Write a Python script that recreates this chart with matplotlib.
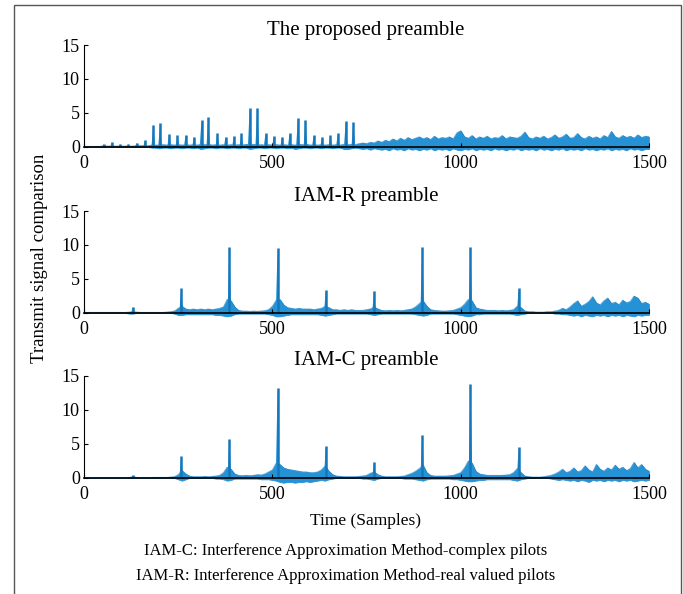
import numpy as np
import matplotlib
matplotlib.use("Agg")
import matplotlib.pyplot as plt
from matplotlib.patches import Rectangle

plt.rcParams['font.family'] = ['Liberation Serif', 'DejaVu Serif']

# =============================================================================
# Data (sample index 0..1500, envelope every 10 samples)
# =============================================================================
grid_x = list(range(0, 1501, 10))

titles = ["The proposed preamble", "IAM-R preamble", "IAM-C preamble"]

# --- the proposed preamble
prop_hi = [0.1, 0.1, 0.1, 0.1, 0.1, 0.15, 0.15, 0.15, 0.15, 0.15,
           0.15, 0.15, 0.15, 0.15, 0.2, 0.2, 0.2, 0.2, 0.3, 0.3,
           0.3, 0.35, 0.3, 0.35, 0.3, 0.35, 0.3, 0.35, 0.3, 0.35,
           0.3, 0.4, 0.35, 0.4, 0.3, 0.35, 0.3, 0.35, 0.3, 0.35,
           0.3, 0.35, 0.3, 0.4, 0.35, 0.4, 0.3, 0.35, 0.3, 0.35,
           0.3, 0.35, 0.3, 0.35, 0.3, 0.35, 0.3, 0.4, 0.35, 0.4,
           0.3, 0.35, 0.3, 0.35, 0.3, 0.35, 0.3, 0.35, 0.3, 0.4,
           0.35, 0.4, 0.35, 0.5, 0.6, 0.5, 0.7, 0.6, 0.9, 0.7,
           1.0, 0.8, 1.2, 0.9, 1.3, 1.0, 1.4, 1.1, 1.3, 1.5,
           1.2, 1.4, 1.1, 1.6, 1.2, 1.4, 1.3, 1.5, 1.2, 2.1,
           2.4, 1.5, 1.3, 1.7, 1.2, 1.5, 1.3, 1.6, 1.2, 1.4,
           1.3, 1.7, 1.2, 1.5, 1.4, 1.3, 1.6, 2.2, 1.4, 1.2,
           1.5, 1.3, 1.6, 1.2, 1.4, 1.8, 1.3, 1.5, 1.9, 1.3,
           1.4, 2.0, 1.4, 1.2, 1.6, 1.3, 1.5, 1.2, 1.7, 1.4,
           2.3, 1.5, 1.3, 1.7, 1.4, 1.6, 1.3, 1.8, 1.4, 1.6,
           1.5]
prop_lo = [0, 0, 0, 0, 0, 0, 0, 0, 0, 0,
           0, 0, 0, 0, 0, 0, 0, 0, -0.1, -0.1,
           -0.2, -0.1, -0.1, -0.2, -0.1, -0.1, -0.2, -0.1, -0.1, -0.2,
           -0.1, -0.3, -0.2, -0.1, -0.1, -0.2, -0.1, -0.1, -0.2, -0.1,
           -0.1, -0.2, -0.1, -0.1, -0.3, -0.2, -0.1, -0.1, -0.2, -0.1,
           -0.1, -0.2, -0.1, -0.1, -0.2, -0.1, -0.3, -0.2, -0.1, -0.1,
           -0.2, -0.1, -0.1, -0.2, -0.1, -0.1, -0.2, -0.1, -0.1, -0.3,
           -0.3, -0.2, -0.1, -0.2, -0.3, -0.2, -0.4, -0.2, -0.3, -0.4,
           -0.3, -0.5, -0.2, -0.4, -0.3, -0.5, -0.2, -0.4, -0.3, -0.5,
           -0.3, -0.4, -0.2, -0.5, -0.3, -0.4, -0.3, -0.5, -0.2, -0.4,
           -0.5, -0.3, -0.4, -0.2, -0.5, -0.3, -0.4, -0.3, -0.5, -0.2,
           -0.4, -0.3, -0.5, -0.3, -0.4, -0.2, -0.5, -0.3, -0.4, -0.3,
           -0.5, -0.2, -0.4, -0.3, -0.5, -0.3, -0.4, -0.2, -0.5, -0.3,
           -0.4, -0.3, -0.5, -0.2, -0.4, -0.3, -0.5, -0.3, -0.4, -0.2,
           -0.5, -0.3, -0.4, -0.3, -0.5, -0.2, -0.4, -0.3, -0.5, -0.3,
           -0.3]
prop_peak_x = [52, 74, 96, 118, 140, 162, 184, 202, 226, 248, 270, 292,
               312, 330, 354, 376, 398, 418, 440, 460, 482, 504, 526, 546,
               568, 588, 610, 632, 654, 674, 695, 715]
prop_peak_y = [0.4, 0.7, 0.4, 0.4, 0.6, 1.0, 3.3, 3.5, 1.9, 1.7, 1.8, 1.5,
               4.0, 4.4, 2.0, 1.5, 1.6, 2.0, 5.8, 5.8, 2.0, 1.6, 1.5, 2.0,
               4.2, 4.0, 1.7, 1.5, 1.7, 2.0, 3.8, 3.6]

# --- IAM-R preamble
iamr_hi = [0.1, 0.1, 0.1, 0.1, 0.1, 0.1, 0.1, 0.1, 0.1, 0.1,
           0.1, 0.1, 0.15, 0.2, 0.15, 0.1, 0.1, 0.1, 0.1, 0.1,
           0.1, 0.1, 0.15, 0.2, 0.3, 0.7, 1.0, 0.6, 0.5, 0.6,
           0.5, 0.6, 0.5, 0.6, 0.5, 0.6, 0.7, 0.9, 2.0, 1.8,
           0.9, 0.4, 0.3, 0.3, 0.25, 0.3, 0.25, 0.3, 0.35, 0.5,
           1.0, 1.9, 2.0, 1.2, 0.8, 0.7, 0.6, 0.7, 0.6, 0.6,
           0.6, 0.5, 0.6, 0.7, 1.0, 0.8, 0.5, 0.5, 0.4, 0.5,
           0.4, 0.5, 0.4, 0.4, 0.4, 0.5, 0.6, 0.9, 0.6, 0.4,
           0.35, 0.4, 0.35, 0.4, 0.35, 0.4, 0.5, 0.6, 0.9, 1.4,
           1.8, 1.0, 0.5, 0.4, 0.35, 0.3, 0.3, 0.35, 0.4, 0.6,
           0.8, 1.3, 2.0, 1.8, 0.8, 0.6, 0.5, 0.4, 0.4, 0.4,
           0.35, 0.4, 0.35, 0.4, 0.5, 1.0, 0.8, 0.3, 0.2, 0.2,
           0.15, 0.15, 0.15, 0.2, 0.2, 0.3, 0.4, 0.7, 0.5, 0.9,
           1.4, 1.8, 1.0, 1.3, 1.7, 2.4, 1.5, 1.2, 1.8, 2.2,
           1.4, 1.6, 1.2, 1.9, 1.5, 1.7, 2.5, 2.2, 1.4, 1.6,
           1.3]
iamr_lo = [0, 0, 0, 0, 0, 0, 0, 0, 0, 0,
           0, 0, -0.1, -0.1, 0, 0, 0, 0, 0, 0,
           0, 0, 0, 0, -0.1, -0.3, -0.3, -0.2, -0.2, -0.2,
           -0.2, -0.2, -0.2, -0.2, -0.2, -0.3, -0.3, -0.4, -0.5, -0.4,
           -0.2, -0.1, -0.1, -0.1, -0.1, -0.1, -0.1, -0.1, -0.1, -0.2,
           -0.3, -0.5, -0.5, -0.4, -0.3, -0.2, -0.2, -0.2, -0.2, -0.2,
           -0.2, -0.2, -0.2, -0.3, -0.4, -0.3, -0.2, -0.1, -0.1, -0.1,
           -0.1, -0.1, -0.1, -0.1, -0.1, -0.1, -0.2, -0.3, -0.2, -0.1,
           -0.1, -0.1, -0.1, -0.1, -0.1, -0.1, -0.1, -0.1, -0.2, -0.3,
           -0.4, -0.3, -0.1, -0.1, -0.1, -0.1, -0.1, -0.1, -0.1, -0.2,
           -0.3, -0.4, -0.5, -0.4, -0.2, -0.2, -0.1, -0.1, -0.1, -0.1,
           -0.1, -0.1, -0.1, -0.1, -0.2, -0.3, -0.2, -0.1, 0, 0,
           0, 0, 0, 0, 0, -0.1, -0.1, -0.2, -0.2, -0.3,
           -0.4, -0.3, -0.5, -0.3, -0.4, -0.5, -0.3, -0.4, -0.3, -0.5,
           -0.3, -0.4, -0.3, -0.5, -0.3, -0.4, -0.5, -0.3, -0.4, -0.3,
           -0.3]
iamr_peak_x = [130, 258, 386, 514, 642, 770, 898, 1026, 1154]
iamr_peak_y = [0.9, 3.6, 9.7, 9.5, 3.4, 3.3, 9.7, 9.7, 3.6]

# --- IAM-C preamble
iamc_hi = [0.05, 0.05, 0.05, 0.05, 0.05, 0.05, 0.05, 0.05, 0.05, 0.05,
           0.05, 0.05, 0.1, 0.2, 0.1, 0.05, 0.05, 0.05, 0.1, 0.1,
           0.1, 0.1, 0.1, 0.15, 0.2, 0.5, 1.1, 0.6, 0.3, 0.2,
           0.2, 0.2, 0.25, 0.2, 0.25, 0.3, 0.4, 0.8, 1.6, 1.3,
           0.6, 0.4, 0.35, 0.4, 0.35, 0.4, 0.5, 0.45, 0.6, 0.9,
           1.2, 2.2, 2.0, 1.5, 1.3, 1.2, 1.1, 1.0, 0.9, 0.9,
           0.8, 0.8, 0.9, 1.2, 1.8, 1.0, 0.5, 0.3, 0.25, 0.2,
           0.2, 0.2, 0.2, 0.25, 0.3, 0.4, 0.7, 0.9, 0.5, 0.3,
           0.2, 0.2, 0.2, 0.2, 0.25, 0.3, 0.5, 0.7, 1.0, 1.4,
           1.9, 0.8, 0.4, 0.3, 0.3, 0.3, 0.3, 0.35, 0.4, 0.6,
           0.8, 1.5, 2.5, 2.2, 1.0, 0.6, 0.5, 0.4, 0.4, 0.4,
           0.4, 0.4, 0.45, 0.5, 0.8, 1.4, 0.8, 0.3, 0.2, 0.15,
           0.15, 0.15, 0.2, 0.3, 0.4, 0.6, 0.9, 1.3, 0.8, 1.0,
           1.5, 0.9, 1.1, 1.8, 1.2, 0.9, 2.0, 1.3, 1.0, 1.5,
           1.2, 1.9, 1.3, 1.6, 1.1, 1.4, 2.3, 1.5, 2.0, 1.3,
           1.0]
iamc_lo = [0, 0, 0, 0, 0, 0, 0, 0, 0, 0,
           0, 0, 0, 0, 0, 0, 0, 0, 0, 0,
           0, 0, 0, 0, 0, -0.2, -0.4, -0.2, 0, 0,
           0, 0, 0, 0, 0, -0.1, -0.1, -0.2, -0.4, -0.3,
           -0.1, -0.1, -0.1, -0.1, -0.1, -0.1, -0.1, -0.2, -0.2, -0.2,
           -0.3, -0.4, -0.6, -0.7, -0.6, -0.6, -0.7, -0.6, -0.6, -0.5,
           -0.6, -0.5, -0.4, -0.3, -0.4, -0.2, -0.1, 0, 0, 0,
           0, 0, 0, 0, -0.1, -0.1, -0.2, -0.3, -0.1, 0,
           0, 0, 0, 0, 0, -0.1, -0.1, -0.1, -0.2, -0.3,
           -0.4, -0.2, -0.1, -0.1, -0.1, -0.1, -0.1, -0.1, -0.2, -0.2,
           -0.3, -0.4, -0.5, -0.5, -0.4, -0.3, -0.3, -0.2, -0.2, -0.2,
           -0.2, -0.2, -0.2, -0.2, -0.3, -0.4, -0.2, -0.1, 0, 0,
           0, 0, 0, 0, -0.1, -0.2, -0.3, -0.2, -0.3, -0.4,
           -0.3, -0.5, -0.3, -0.4, -0.6, -0.3, -0.4, -0.3, -0.5, -0.3,
           -0.4, -0.3, -0.5, -0.3, -0.4, -0.3, -0.5, -0.4, -0.3, -0.4,
           -0.3]
iamc_peak_x = [130, 258, 386, 514, 642, 770, 898, 1026, 1154]
iamc_peak_y = [0.4, 3.3, 5.8, 13.3, 4.7, 2.4, 6.3, 13.8, 4.5]

x_ticks = [0, 500, 1000, 1500]
y_ticks = [0, 5, 10, 15]

ylabel = "Transmit signal comparison"
xlabel = "Time (Samples)"
notes = ["IAM-C: Interference Approximation Method-complex pilots",
         "IAM-R: Interference Approximation Method-real valued pilots"]

#%%
# =============================================================================
# Plot
# =============================================================================
W, H = 683, 594
fig = plt.figure(figsize=(W / 100, H / 100), dpi=100)

blue = '#2692d6'
dark = '#1577bb'

panels = [(prop_hi, prop_lo, prop_peak_x, prop_peak_y),
          (iamr_hi, iamr_lo, iamr_peak_x, iamr_peak_y),
          (iamc_hi, iamc_lo, iamc_peak_x, iamc_peak_y)]
zero_px = [147, 313, 478]   # y pixel of the zero line in each panel
title_px = [30, 196, 361]

for i, (hi, lo, px, py) in enumerate(panels):
    top = zero_px[i] - 102
    bot = zero_px[i] + 5.4
    ax = fig.add_axes([84 / W, 1 - bot / H, 565 / W, (bot - top) / H])
    ax.set_xlim(0, 1500)
    ax.set_ylim(-0.8, 15)

    ax.fill_between(grid_x, lo, hi, color=blue, lw=0.6, edgecolor=blue, zorder=1)
    ax.plot(grid_x, hi, color=dark, lw=0.5, alpha=0.6, zorder=1.2)
    for c, h in zip(px, py):
        ax.fill([c - 5, c, c + 5], [0, h, 0], color=blue, lw=0, zorder=1.5)
        ax.vlines(c, 0, h, color=dark, lw=1.8, zorder=1.6)

    for s in ['top', 'right']:
        ax.spines[s].set_visible(False)
    ax.spines['left'].set_bounds(0, 15)
    ax.spines['left'].set_linewidth(0.8)
    ax.spines['bottom'].set_position(('data', 0))
    ax.spines['bottom'].set_linewidth(1.2)
    ax.spines['bottom'].set_zorder(3)

    ax.set_xticks(x_ticks)
    ax.set_yticks(y_ticks)
    ax.tick_params(direction='in', length=3, width=0.8, labelsize=13, pad=3)
    ax.tick_params(axis='x', pad=6)
    ax.patch.set_alpha(0)

    fig.text(366 / W, 1 - title_px[i] / H, titles[i], ha='center', va='center',
             fontsize=15)

fig.text(40 / W, 1 - 258 / H, ylabel, rotation=90, ha='center', va='center',
         fontsize=13.5)
fig.text(366 / W, 1 - 521 / H, xlabel, ha='center', va='center', fontsize=12.5)
fig.text(346 / W, 1 - 551 / H, notes[0], ha='center', va='center', fontsize=12)
fig.text(346 / W, 1 - 576 / H, notes[1], ha='center', va='center', fontsize=12)

# thin frame around the whole figure
fig.patches.append(Rectangle((14 / W, -0.01), 667 / W, 1 - 5 / H + 0.01,
                             transform=fig.transFigure, fill=False,
                             edgecolor='#555555', lw=1))

plt.savefig('out.png', dpi=100)
